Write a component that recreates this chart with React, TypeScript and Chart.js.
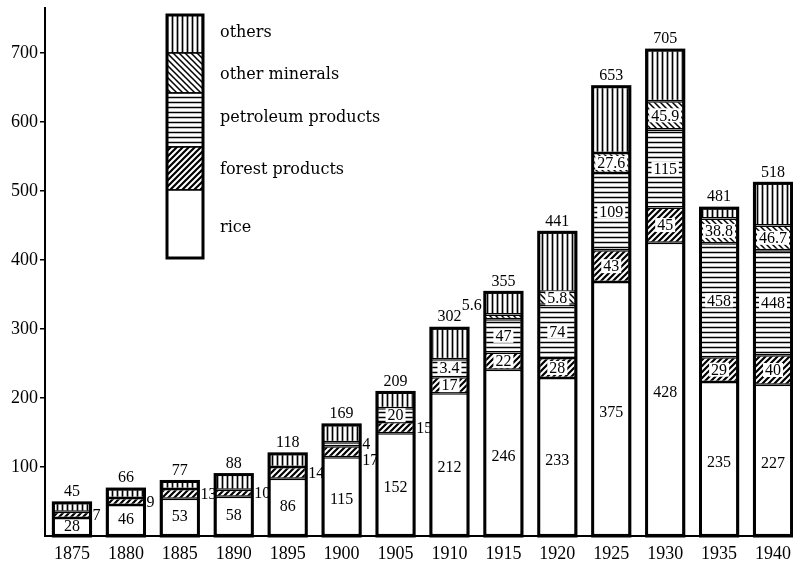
import React, { useEffect, useRef } from 'react';
import { Chart, registerables } from 'chart.js';

Chart.register(...registerables);

// ---- data ----
const years = ['1875', '1880', '1885', '1890', '1895', '1900', '1905', '1910', '1915', '1920', '1925', '1930', '1935', '1940'];
// drawn heights of each segment
const rice = [26, 45, 54, 57, 83, 114, 149, 207, 241, 229, 368, 425, 223, 219];
const forest = [9, 10, 14, 10, 17, 16, 16, 23, 25, 29, 46, 51, 36, 43];
const petroleum = [0, 0, 0, 0, 0, 6, 20, 26, 48, 77, 112, 113, 165, 152];
const minerals = [0, 0, 0, 0, 0, 0, 0, 0, 7, 19, 29, 41, 36, 36];
const others = [13, 13, 11, 22, 19, 25, 23, 45, 32, 86, 96, 74, 15, 61];
// printed numbers
const totalLabels = ['45', '66', '77', '88', '118', '169', '209', '302', '355', '441', '653', '705', '481', '518'];
const riceLabels = ['28', '46', '53', '58', '86', '115', '152', '212', '246', '233', '375', '428', '235', '227'];
const forestLabels = ['7', '9', '13', '10', '14', '17', '15', '17', '22', '28', '43', '45', '29', '40'];
const petroleumLabels = ['', '', '', '', '', '4', '20', '3.4', '47', '74', '109', '115', '458', '448'];
const mineralLabels = ['', '', '', '', '', '', '', '', '5.6', '5.8', '27.6', '45.9', '38.8', '46.7'];
const yTicks = [100, 200, 300, 400, 500, 600, 700];
const legendItems = ['others', 'other minerals', 'petroleum products', 'forest products', 'rice'];

const SERIF = '"Liberation Serif", "Times New Roman", serif';
const LEGEND_FONT = '"DejaVu Serif", serif';

type Kind = 'rice' | 'forest' | 'petroleum' | 'minerals' | 'others';

function makePattern(kind: Kind): CanvasPattern | string {
  if (kind === 'rice') return '#ffffff';
  const s = kind === 'others' || kind === 'petroleum' ? 5 : 6;
  const c = document.createElement('canvas');
  c.width = s;
  c.height = s;
  const g = c.getContext('2d')!;
  g.fillStyle = '#fff';
  g.fillRect(0, 0, s, s);
  g.strokeStyle = '#000';
  g.beginPath();
  if (kind === 'others') {
    g.lineWidth = 1.7;
    g.moveTo(s / 2, 0);
    g.lineTo(s / 2, s);
  } else if (kind === 'petroleum') {
    g.lineWidth = 1.5;
    g.moveTo(0, s / 2);
    g.lineTo(s, s / 2);
  } else if (kind === 'forest') {
    g.lineWidth = 2.2;
    g.moveTo(-1, s + 1);
    g.lineTo(s + 1, -1);
    g.moveTo(-1, 1);
    g.lineTo(1, -1);
    g.moveTo(s - 1, s + 1);
    g.lineTo(s + 1, s - 1);
  } else {
    g.lineWidth = 1.5;
    g.moveTo(-1, -1);
    g.lineTo(s + 1, s + 1);
    g.moveTo(-1, s - 1);
    g.lineTo(1, s + 1);
    g.moveTo(s - 1, -1);
    g.lineTo(s + 1, 1);
  }
  g.stroke();
  return g.createPattern(c, 'repeat') || '#fff';
}

export default function App() {
  const ref = useRef<HTMLCanvasElement | null>(null);

  useEffect(() => {
    document.body.style.overflow = 'hidden';
    const canvas = ref.current;
    if (!canvas) return;

    const fills = {
      rice: makePattern('rice'),
      forest: makePattern('forest'),
      petroleum: makePattern('petroleum'),
      minerals: makePattern('minerals'),
      others: makePattern('others'),
    };
    const series = [rice, forest, petroleum, minerals, others];
    const labelSets = [riceLabels, forestLabels, petroleumLabels, mineralLabels, null];

    const mk = (label: string, data: number[], kind: Kind) => ({
      label,
      data: data.map((v) => (v ? v : null)),
      backgroundColor: fills[kind],
      borderColor: '#000',
      borderWidth: 1.5,
      borderSkipped: false,
      barPercentage: 0.69,
      categoryPercentage: 1,
      stack: 's',
    });

    const labelPlugin = {
      id: 'segLabels',
      afterDatasetsDraw(chart: any) {
        const ctx = chart.ctx as CanvasRenderingContext2D;
        const base = chart.scales.y.getPixelForValue(0);
        const metas = [0, 1, 2, 3, 4].map((i) => chart.getDatasetMeta(i));
        ctx.save();
        ctx.textBaseline = 'middle';
        years.forEach((_, i) => {
          const el0 = metas[0].data[i];
          const x = el0.x;
          const w = el0.width;
          let top = base;
          series.forEach((s, di) => {
            if (s[i]) top = Math.min(top, metas[di].data[i].y);
          });
          // outer frame
          ctx.lineWidth = 3;
          ctx.strokeStyle = '#000';
          ctx.strokeRect(x - w / 2, top, w, base - top);

          // total
          ctx.fillStyle = '#000';
          ctx.textAlign = 'center';
          ctx.font = `16px ${SERIF}`;
          ctx.fillText(totalLabels[i], x, top - 11);

          let lastRightY = -Infinity;
          // go top-down for outside labels: minerals, petroleum, forest, rice
          for (let di = 3; di >= 0; di--) {
            const labs = labelSets[di];
            if (!labs || !labs[i] || !series[di][i]) continue;
            const el = metas[di].data[i];
            const segTop = el.y;
            const segBot = el.base;
            const h = segBot - segTop;
            const cy = (segTop + segBot) / 2;
            const txt = labs[i];
            ctx.font = `16px ${SERIF}`;
            if (di === 0) {
              ctx.textAlign = 'center';
              ctx.fillStyle = '#000';
              ctx.fillText(txt, x, cy + (h > 60 ? 4 : 0));
              continue;
            }
            if (h >= 12) {
              const tw = ctx.measureText(txt).width;
              ctx.fillStyle = '#fff';
              ctx.fillRect(x - tw / 2 - 2, cy - 7, tw + 4, 14);
              ctx.fillStyle = '#000';
              ctx.textAlign = 'center';
              ctx.fillText(txt, x, cy + 1);
            } else if (di === 3) {
              ctx.fillStyle = '#000';
              ctx.textAlign = 'right';
              ctx.fillText(txt, x - w / 2 - 3, cy - 11);
            } else {
              const yy = Math.max(cy + 1, lastRightY + 16);
              lastRightY = yy;
              ctx.fillStyle = '#000';
              ctx.textAlign = 'left';
              ctx.fillText(txt, x + w / 2 + 2, yy);
            }
          }
        });
        ctx.restore();
      },
      afterDraw(chart: any) {
        // legend column
        const ctx = chart.ctx as CanvasRenderingContext2D;
        const bx = 167;
        const bw = 36;
        const bands = [
          { kind: 'others' as Kind, y0: 15, y1: 53 },
          { kind: 'minerals' as Kind, y0: 53, y1: 93 },
          { kind: 'petroleum' as Kind, y0: 93, y1: 147 },
          { kind: 'forest' as Kind, y0: 147, y1: 190 },
          { kind: 'rice' as Kind, y0: 190, y1: 258 },
        ];
        const textY = [33, 75, 118, 170, 228];
        ctx.save();
        bands.forEach((b, k) => {
          ctx.fillStyle = fills[b.kind] as any;
          ctx.fillRect(bx, b.y0, bw, b.y1 - b.y0);
          ctx.lineWidth = 1.5;
          ctx.strokeStyle = '#000';
          ctx.strokeRect(bx, b.y0, bw, b.y1 - b.y0);
          ctx.fillStyle = '#000';
          ctx.font = `16px ${LEGEND_FONT}`;
          ctx.textAlign = 'left';
          ctx.textBaseline = 'middle';
          ctx.fillText(legendItems[k], 220, textY[k]);
        });
        ctx.lineWidth = 3;
        ctx.strokeRect(bx, 15, bw, 243);
        ctx.restore();
      },
    };

    const chart = new Chart(canvas, {
      type: 'bar',
      data: {
        labels: years,
        datasets: [
          mk('rice', rice, 'rice'),
          mk('forest products', forest, 'forest'),
          mk('petroleum products', petroleum, 'petroleum'),
          mk('other minerals', minerals, 'minerals'),
          mk('others', others, 'others'),
        ] as any,
      },
      options: {
        animation: false,
        responsive: false,
        devicePixelRatio: 1,
        layout: { padding: { top: 8, left: 0, right: 0, bottom: 0 } },
        plugins: { legend: { display: false }, tooltip: { enabled: false } },
        scales: {
          x: {
            stacked: true,
            offset: true,
            grid: { display: false, drawTicks: false },
            border: { color: '#000', width: 2 },
            ticks: { color: '#000', font: { family: SERIF, size: 18 }, padding: 7, maxRotation: 0, autoSkip: false },
            afterFit: (s: any) => {
              s.height = 32;
              s.paddingLeft = 0;
              s.paddingRight = 0;
            },
          },
          y: {
            stacked: true,
            min: 0,
            max: 765,
            ticks: {
              stepSize: 100,
              color: '#000',
              padding: 2,
              font: { family: SERIF, size: 18 },
              callback: (v: any) => (yTicks.includes(Number(v)) ? String(v) : ''),
            },
            grid: {
              drawOnChartArea: false,
              drawTicks: true,
              tickLength: 5,
              lineWidth: 1.5,
              color: (c: any) => (c.tick && yTicks.includes(c.tick.value) ? '#000' : 'rgba(0,0,0,0)'),
            },
            border: { color: '#000', width: 2 },
            afterFit: (s: any) => {
              s.width = 45;
              s.paddingTop = 0;
              s.paddingBottom = 0;
            },
          },
        },
      } as any,
      plugins: [labelPlugin],
    });
    return () => chart.destroy();
  }, []);

  return (
    <div style={{ position: 'fixed', left: 0, top: 0, width: 800, height: 568, background: '#fff' }}>
      <canvas ref={ref} width={800} height={568} style={{ width: 800, height: 568, display: 'block' }} />
    </div>
  );
}
